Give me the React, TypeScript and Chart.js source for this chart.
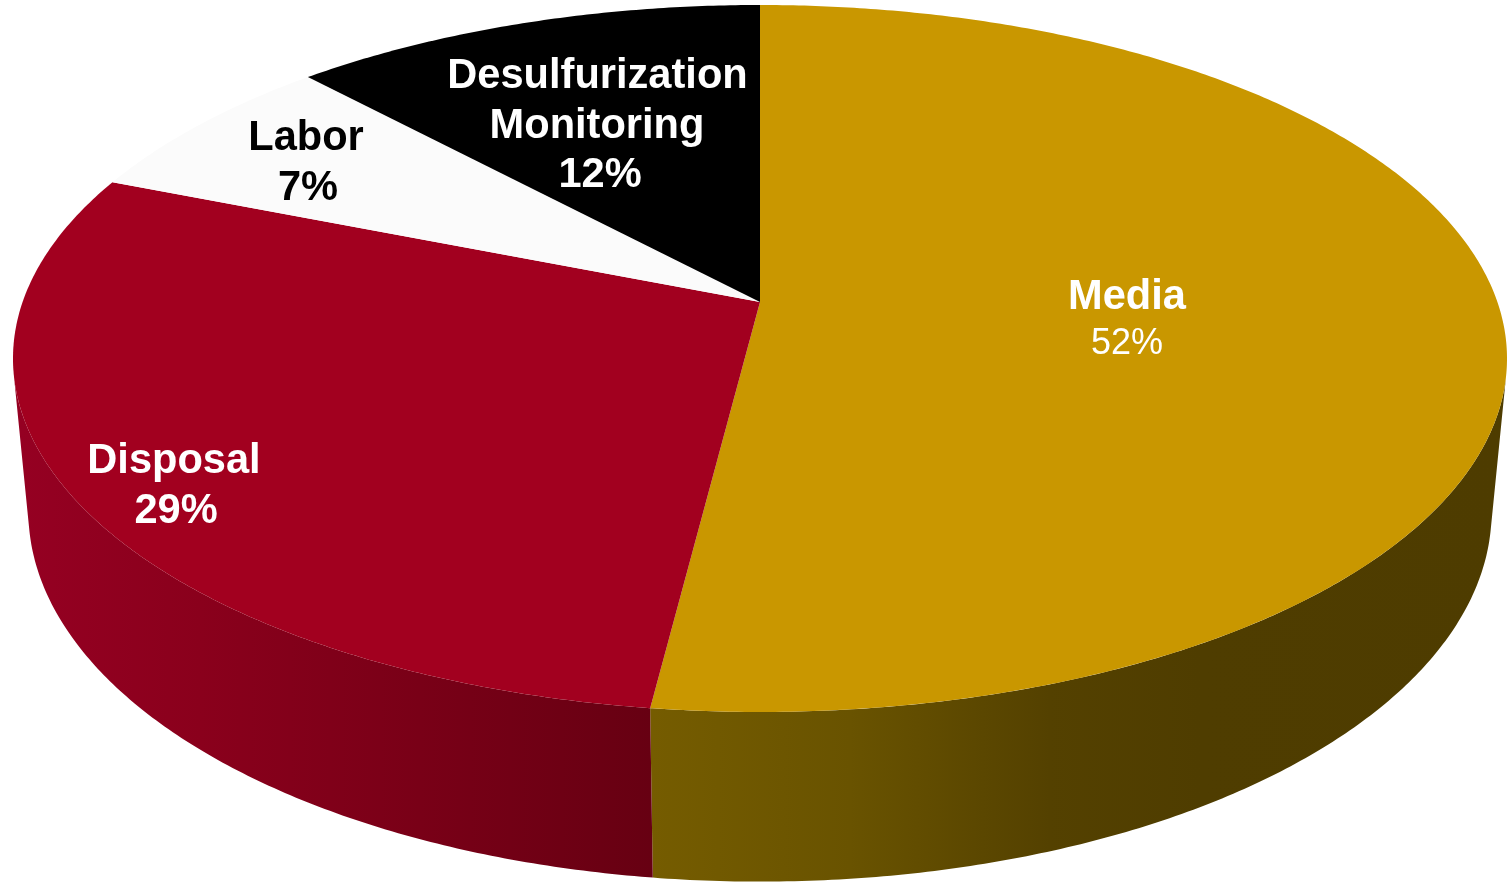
import React, { useEffect, useRef } from "react";
import { Chart, registerables } from "chart.js";

Chart.register(...registerables);

const categories = ["Media", "Disposal", "Labor", "Desulfurization Monitoring"];
const shares = [52, 29, 7, 12];
const faceColors = ["#C99700", "#A2001F", "#FBFBFB", "#000000"];

// Side wall shading: horizontal ramps, only the two front slices show a wall.
const wallRamps: Record<number, [number, string][]> = {
  0: [[652, "#755C00"], [850, "#695300"], [1050, "#544100"], [1200, "#4F3D00"], [1507, "#4E3C00"]],
  1: [[20, "#950022"], [200, "#8A001C"], [420, "#790017"], [652, "#670012"]],
};

// One entry per text line: text, font, centre x, baseline y, colour.
const labelLines: [string, string, number, number, string][] = [
  [categories[0], "bold 41.6px", 1127, 309, "#FFFFFF"],
  [`${shares[0]}%`, "36px", 1127, 354, "#FFFFFF"],
  [categories[1], "bold 41.6px", 174, 473, "#FFFFFF"],
  [`${shares[1]}%`, "bold 41.6px", 176, 523, "#FFFFFF"],
  [categories[2], "bold 41.6px", 306, 150, "#000000"],
  [`${shares[2]}%`, "bold 41.6px", 308, 200, "#000000"],
  ["Desulfurization", "bold 41.6px", 597.5, 88, "#FFFFFF"],
  ["Monitoring", "bold 41.6px", 597, 138, "#FFFFFF"],
  [`${shares[3]}%`, "bold 41.6px", 600, 187, "#FFFFFF"],
];

// Perspective projection of the tilted disc: clockwise angle from the top -> page point.
const CX = 760;
const DX = 737.4;
const persp = -0.1598;
const faceAt = (t: number) => {
  const u = Math.sin(t);
  const v = -Math.cos(t);
  const w = 1 + persp * v;
  return { x: CX + (DX * u) / w, y: (302 + 296.2 * v) / w };
};
const floorAt = (t: number) => {
  const u = Math.sin(t);
  const v = -Math.cos(t);
  const w = 1 + persp * v + 0.0205;
  return { x: CX + (DX * u) / w, y: (302 + 296.2 * v + 160.6) / w };
};

// Angles where the wall meets the silhouette on the right and on the left.
const WALL_FROM = Math.acos(-0.2);
const WALL_TO = 2 * Math.PI - WALL_FROM;
const STEP = Math.PI / 360;

const tiltedPie = {
  id: "tiltedPie",
  beforeDatasetDraw(chart: any, args: any) {
    const { ctx } = chart;
    const arcs = args.meta.data;
    const spans = arcs.map((a: any) => [a.startAngle + Math.PI / 2, a.endAngle + Math.PI / 2]);

    ctx.save();
    spans.forEach(([from, to]: number[], i: number) => {
      const ramp = wallRamps[i];
      if (!ramp) return;
      const a = Math.max(from, WALL_FROM);
      const b = Math.min(to, WALL_TO);
      const grad = ctx.createLinearGradient(ramp[0][0], 0, ramp[ramp.length - 1][0], 0);
      const x0 = ramp[0][0];
      const span = ramp[ramp.length - 1][0] - x0;
      ramp.forEach(([x, c]) => grad.addColorStop((x - x0) / span, c));
      ctx.beginPath();
      for (let t = a; t < b; t += STEP) {
        const p = faceAt(t);
        ctx.lineTo(p.x, p.y);
      }
      const pe = faceAt(b);
      ctx.lineTo(pe.x, pe.y);
      for (let t = b; t > a; t -= STEP) {
        const p = floorAt(t);
        ctx.lineTo(p.x, p.y);
      }
      const ps = floorAt(a);
      ctx.lineTo(ps.x, ps.y);
      ctx.closePath();
      ctx.fillStyle = grad;
      ctx.fill();
    });

    const apex = { x: CX, y: 302 };
    spans.forEach(([from, to]: number[], i: number) => {
      ctx.beginPath();
      ctx.moveTo(apex.x, apex.y);
      for (let t = from; t < to; t += STEP) {
        const p = faceAt(t);
        ctx.lineTo(p.x, p.y);
      }
      const pe = faceAt(to);
      ctx.lineTo(pe.x, pe.y);
      ctx.closePath();
      ctx.fillStyle = arcs[i].options.backgroundColor;
      ctx.fill();
    });

    ctx.textAlign = "center";
    ctx.textBaseline = "alphabetic";
    labelLines.forEach(([text, font, x, y, color]) => {
      ctx.font = `${font} "Liberation Sans", Arial, sans-serif`;
      ctx.fillStyle = color;
      ctx.fillText(text, x, y);
    });
    ctx.restore();
    return false;
  },
};

export default function App() {
  const canvasRef = useRef<HTMLCanvasElement>(null);

  useEffect(() => {
    document.body.style.margin = "0";
    const chart = new Chart(canvasRef.current as HTMLCanvasElement, {
      type: "pie",
      data: {
        labels: categories,
        datasets: [{ data: shares, backgroundColor: faceColors, borderWidth: 0 }],
      },
      options: {
        responsive: false,
        animation: false,
        rotation: 0,
        plugins: { legend: { display: false }, tooltip: { enabled: false } },
      },
      plugins: [tiltedPie],
    } as any);
    return () => chart.destroy();
  }, []);

  return <canvas ref={canvasRef} width={1507} height={882} style={{ display: "block" }} />;
}
